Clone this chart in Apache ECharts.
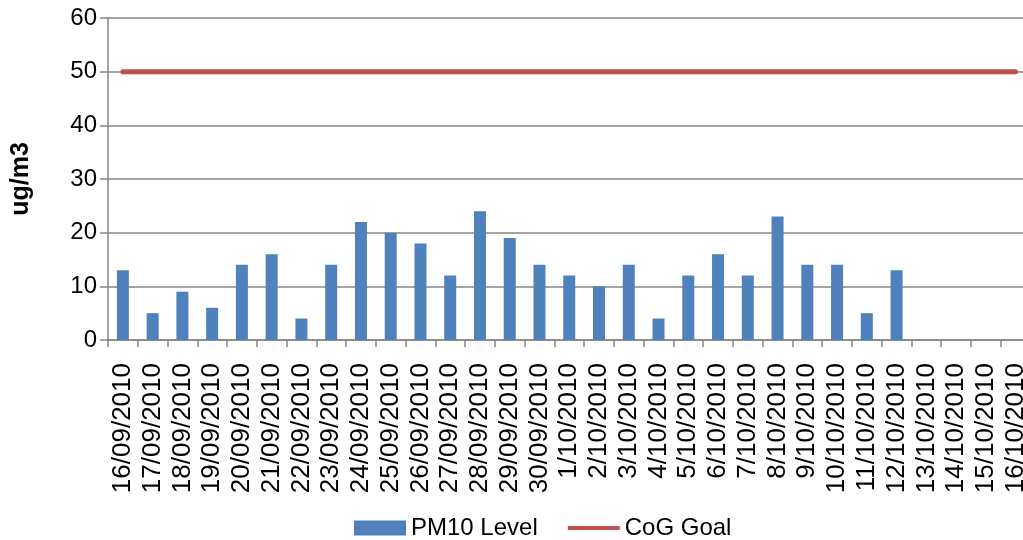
<!DOCTYPE html>
<html>
<head>
<meta charset="utf-8">
<script src="https://cdn.jsdelivr.net/npm/echarts@6/dist/echarts.min.js"></script>
<style>
html,body{margin:0;padding:0;background:#fff;overflow:hidden;width:1023px;height:540px;}
#chart{width:1031px;height:540px;}
</style>
</head>
<body>
<div id="chart"></div>
<script>
var categories = ['16/09/2010','17/09/2010','18/09/2010','19/09/2010','20/09/2010','21/09/2010','22/09/2010','23/09/2010','24/09/2010','25/09/2010','26/09/2010','27/09/2010','28/09/2010','29/09/2010','30/09/2010','1/10/2010','2/10/2010','3/10/2010','4/10/2010','5/10/2010','6/10/2010','7/10/2010','8/10/2010','9/10/2010','10/10/2010','11/10/2010','12/10/2010','13/10/2010','14/10/2010','15/10/2010','16/10/2010'];
var pm10Level = [13,5,9,6,14,16,4,14,22,20,18,12,24,19,14,12,10,14,4,12,16,12,23,14,14,5,13,null,null,null,null];
var cogGoal = [50,50,50,50,50,50,50,50,50,50,50,50,50,50,50,50,50,50,50,50,50,50,50,50,50,50,50,50,50,50,50];
var yTicks = {min:0, max:60, interval:10};

var chart = echarts.init(document.getElementById('chart'), null, {renderer:'canvas'});
var font = 'Liberation Sans, Arial, sans-serif';
chart.setOption({
  animation:false,
  backgroundColor:'#fff',
  textStyle:{fontFamily:font},
  grid:{left:108, right:0.5, top:18, bottom:200, containLabel:false},
  legend:{
    top:511, left:349,
    itemGap:30, itemWidth:52, itemHeight:15,
    textStyle:{fontFamily:font, fontSize:24, color:'#000'},
    data:[
      {name:'PM10 Level', icon:'rect'},
      {name:'CoG Goal', icon:'path://M0,0 L55,0 L55,4 L0,4 Z'}
    ]
  },
  xAxis:{
    type:'category',
    data:categories,
    boundaryGap:true,
    axisLine:{lineStyle:{color:'#868686', width:1.5}},
    axisTick:{show:true, length:7, inside:false, lineStyle:{color:'#868686', width:1.5}},
    axisLabel:{rotate:90, interval:0, margin:23, fontSize:26, color:'#000', fontFamily:font},
    splitLine:{show:false}
  },
  yAxis:{
    type:'value',
    min:yTicks.min, max:yTicks.max, interval:yTicks.interval,
    name:'ug/m3',
    nameLocation:'middle',
    nameGap:74,
    nameRotate:90,
    nameTextStyle:{fontFamily:font, fontSize:25, fontWeight:'bold', color:'#000'},
    axisLine:{show:true, lineStyle:{color:'#868686', width:1.5}},
    axisTick:{show:true, length:8, lineStyle:{color:'#868686', width:1.5}},
    axisLabel:{margin:11, fontSize:24, color:'#000', fontFamily:font},
    splitLine:{show:true, lineStyle:{color:'#868686', width:1.5}}
  },
  series:[
    {
      name:'PM10 Level',
      type:'bar',
      data:pm10Level,
      barWidth:12,
      itemStyle:{color:'#4F81BD'}
    },
    {
      name:'CoG Goal',
      type:'line',
      data:cogGoal,
      symbol:'none',
      showSymbol:false,
      lineStyle:{color:'#C0504D', width:5, cap:'round'},
      itemStyle:{color:'#C0504D'}
    }
  ]
});
</script>
</body>
</html>
